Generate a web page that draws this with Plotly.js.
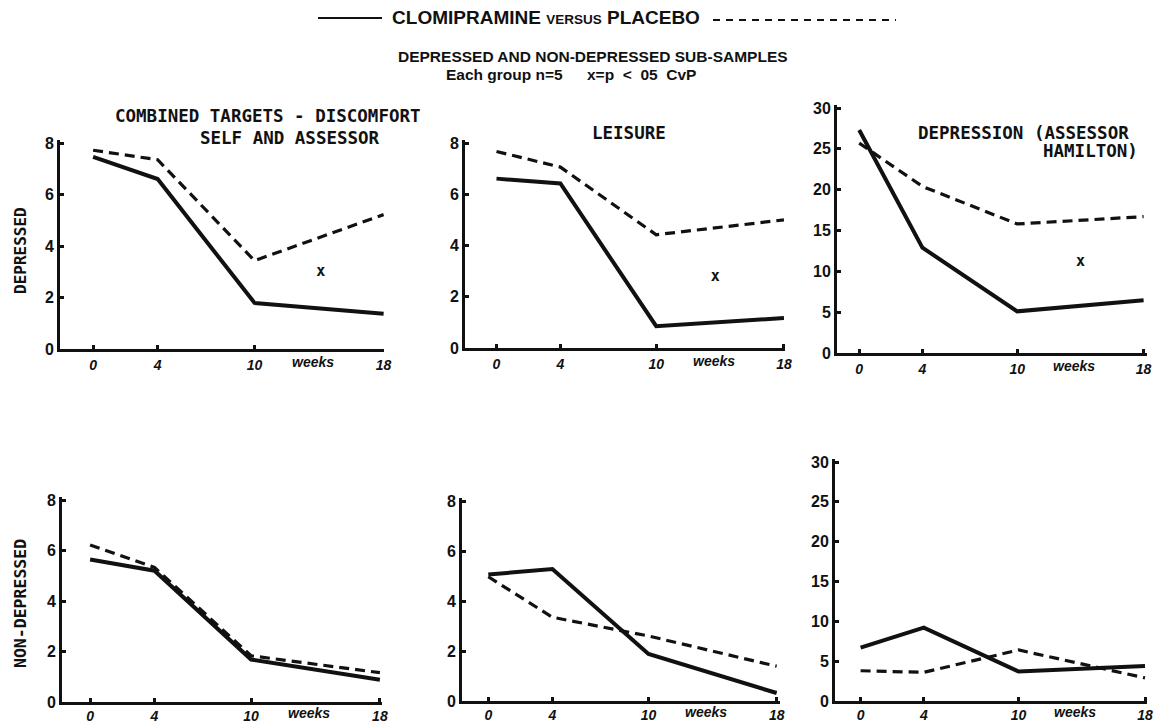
<!DOCTYPE html>
<html><head><meta charset="utf-8">
<script src="https://cdn.plot.ly/plotly-3.0.1.min.js"></script>
<style>html,body{margin:0;padding:0;background:#fff}#chart{width:1154px;height:723px}</style>
</head><body><div id="chart"></div>
<script>
// ---- data (weeks of treatment) ----
const weeks = [0, 4, 10, 18];
const weekLabels = ['0', '4', '10', '18'];

// Depressed sub-sample
const combDepClomipramine = [7.46, 6.6, 1.79, 1.37];
const combDepPlacebo      = [7.72, 7.35, 3.43, 5.22];
const leisDepClomipramine = [6.61, 6.42, 0.85, 1.17];
const leisDepPlacebo      = [7.67, 7.06, 4.42, 5.0];
const hamDepClomipramine  = [27.3, 12.9, 5.1, 6.45];
const hamDepPlacebo       = [25.7, 20.4, 15.8, 16.7];

// Non-depressed sub-sample
const combNonClomipramine = [5.64, 5.2, 1.68, 0.88];
const combNonPlacebo      = [6.22, 5.33, 1.83, 1.16];
const leisNonClomipramine = [5.06, 5.28, 1.88, 0.32];
const leisNonPlacebo      = [4.97, 3.35, 2.6, 1.39];
const hamNonClomipramine  = [6.7, 9.2, 3.7, 4.4];
const hamNonPlacebo       = [3.8, 3.6, 6.4, 2.9];

// significance markers (x = p < .05 CvP), depressed row
const sigWeeks  = [14.1, 13.7, 14.0];
const sigValues = [2.98, 2.77, 11.1];

const scoreTicks8  = [0, 2, 4, 6, 8];
const scoreTicks30 = [0, 5, 10, 15, 20, 25, 30];

const panelTitles = ['COMBINED TARGETS - DISCOMFORT', 'LEISURE', 'DEPRESSION (ASSESSOR'];
const rowLabels = ['DEPRESSED', 'NON-DEPRESSED'];

// ---- layout geometry (pixels) ----
const W = 1154, H = 723;
const geo = [
  {xl: 60,  xr: 384,  x0: 93.1,  ppw: 16.14, yb: 349, yt: 143, top: 8,  ticks: scoreTicks8},
  {xl: 465, xr: 785,  x0: 496.5, ppw: 15.97, yb: 348, yt: 143, top: 8,  ticks: scoreTicks8},
  {xl: 837, xr: 1147, x0: 859.2, ppw: 15.8,  yb: 353, yt: 108, top: 30, ticks: scoreTicks30},
  {xl: 62,  xr: 382,  x0: 90.1,  ppw: 16.1,  yb: 702, yt: 500, top: 8,  ticks: scoreTicks8},
  {xl: 462, xr: 780,  x0: 488.3, ppw: 16.02, yb: 701, yt: 501, top: 8,  ticks: scoreTicks8},
  {xl: 835, xr: 1147, x0: 860.6, ppw: 15.8,  yb: 701, yt: 462, top: 30, ticks: scoreTicks30}
];
const series = [
  [combDepClomipramine, combDepPlacebo],
  [leisDepClomipramine, leisDepPlacebo],
  [hamDepClomipramine, hamDepPlacebo],
  [combNonClomipramine, combNonPlacebo],
  [leisNonClomipramine, leisNonPlacebo],
  [hamNonClomipramine, hamNonPlacebo]
];

const INK = '#111';
const SANS = 'Liberation Sans, Arial, sans-serif';
const traces = [];
const layout = {
  width: W, height: H,
  margin: {l: 0, r: 0, t: 0, b: 0},
  paper_bgcolor: '#fff', plot_bgcolor: 'rgba(0,0,0,0)',
  showlegend: false,
  font: {family: SANS, color: INK},
  title: {
    text: 'CLOMIPRAMINE <span style="font-size:13.5px">VERSUS</span> PLACEBO',
    x: 546 / W, xanchor: 'center', y: 1 - 17 / H, yanchor: 'middle',
    font: {family: SANS, size: 19, color: INK, weight: 600}
  },
  annotations: [],
  shapes: [
    {type: 'line', xref: 'paper', yref: 'paper', x0: 318 / W, x1: 382 / W, y0: 1 - 18 / H, y1: 1 - 18 / H,
     line: {color: INK, width: 2}},
    {type: 'line', xref: 'paper', yref: 'paper', x0: 713 / W, x1: 896 / W, y0: 1 - 20 / H, y1: 1 - 20 / H,
     line: {color: INK, width: 2, dash: '7px,6px'}}
  ]
};

geo.forEach((g, i) => {
  const n = i + 1;
  const xa = 'xaxis' + (n === 1 ? '' : n), ya = 'yaxis' + (n === 1 ? '' : n);
  const xr = 'x' + (n === 1 ? '' : n), yr = 'y' + (n === 1 ? '' : n);
  const unit = (g.yb - g.yt) / g.top;
  const bottomRow = i >= 3;
  layout[xa] = {
    domain: [g.xl / W, g.xr / W],
    range: [(g.xl - g.x0) / g.ppw, (g.xr - g.x0) / g.ppw],
    anchor: yr, showline: true, linewidth: 3, linecolor: INK, mirror: false,
    showgrid: false, zeroline: false, ticks: 'inside', ticklen: 4, tickwidth: 3, tickcolor: INK,
    tickvals: weeks, ticktext: weekLabels, ticklabeloverflow: 'allow',
    ticklabelstandoff: bottomRow ? -1 : 1,
    tickfont: {family: SANS, size: 14, weight: 'bold', style: 'italic', color: INK},
    fixedrange: true
  };
  layout[ya] = {
    domain: [1 - g.yb / H, 1 - (g.yt - 3) / H],
    range: [0, g.top + 3 / unit],
    anchor: xr, showline: true, linewidth: 3, linecolor: INK,
    showgrid: false, zeroline: false, ticks: 'inside', ticklen: 4, tickwidth: 3, tickcolor: INK,
    tickvals: g.ticks, ticktext: g.ticks.map(String), ticklabeloverflow: 'allow',
    tickfont: {family: SANS, size: 16, weight: 'bold', color: INK},
    fixedrange: true
  };
  traces.push({
    x: weeks, y: series[i][0], xaxis: xr, yaxis: yr, type: 'scatter', mode: 'lines',
    name: 'Clomipramine', line: {color: INK, width: 4}, cliponaxis: false
  });
  traces.push({
    x: weeks, y: series[i][1], xaxis: xr, yaxis: yr, type: 'scatter', mode: 'lines',
    name: 'Placebo', line: {color: INK, width: 3.2, dash: '10px,6px'}, cliponaxis: false
  });
  // "weeks" label
  layout.annotations.push({
    xref: xr, yref: 'paper', x: 13.6, y: 1 - (g.yb + (bottomRow ? 11 : 13)) / H, text: 'weeks', showarrow: false,
    xanchor: 'center', yanchor: 'middle',
    font: {family: SANS, size: 14, weight: 'bold', style: 'italic', color: INK}
  });
});

// significance markers on depressed row
[0, 1, 2].forEach(i => {
  const n = i + 1;
  traces.push({
    x: [sigWeeks[i]], y: [sigValues[i]], xaxis: 'x' + (n === 1 ? '' : n), yaxis: 'y' + (n === 1 ? '' : n),
    type: 'scatter', mode: 'text', text: ['x'], textposition: 'middle center', name: 'p<.05',
    textfont: {family: 'DejaVu Sans Mono, monospace', size: 15, weight: 'bold', color: INK}
  });
});

const monoFont = (s) => ({family: 'DejaVu Sans Mono, monospace', size: s, weight: 'bold', color: INK});
const ann = (x, y, text, opts) => Object.assign({xref: 'paper', yref: 'paper', x: x / W, y: 1 - y / H,
  text: text, showarrow: false, xanchor: 'left', yanchor: 'middle'}, opts);
const subFont = {family: SANS, size: 15.5, weight: 600, color: INK};

layout.annotations.push(
  ann(113, 116, panelTitles[0], {font: monoFont(17.5)}),
  ann(198, 138, 'SELF AND ASSESSOR', {font: monoFont(17.5)}),
  ann(590, 133, panelTitles[1], {font: monoFont(17.5)}),
  ann(916, 133, panelTitles[2], {font: monoFont(17.5)}),
  ann(1041, 151, 'HAMILTON)', {font: monoFont(17.5)}),
  ann(20, 251, rowLabels[0], {font: monoFont(16), textangle: -90, xanchor: 'center'}),
  ann(20, 604, rowLabels[1], {font: monoFont(16.5), textangle: -90, xanchor: 'center'}),
  ann(593, 57, 'DEPRESSED AND NON-DEPRESSED SUB-SAMPLES', {xanchor: 'center', font: subFont}),
  ann(444, 75, 'Each group n=5', {xanchor: 'left', font: subFont}),
  ann(585, 75, 'x=p&nbsp;&nbsp;&lt;&nbsp;&nbsp;05&nbsp;&nbsp;CvP', {xanchor: 'left', font: subFont})
);

Plotly.newPlot('chart', traces, layout, {staticPlot: true, displayModeBar: false});
</script>
</body></html>
